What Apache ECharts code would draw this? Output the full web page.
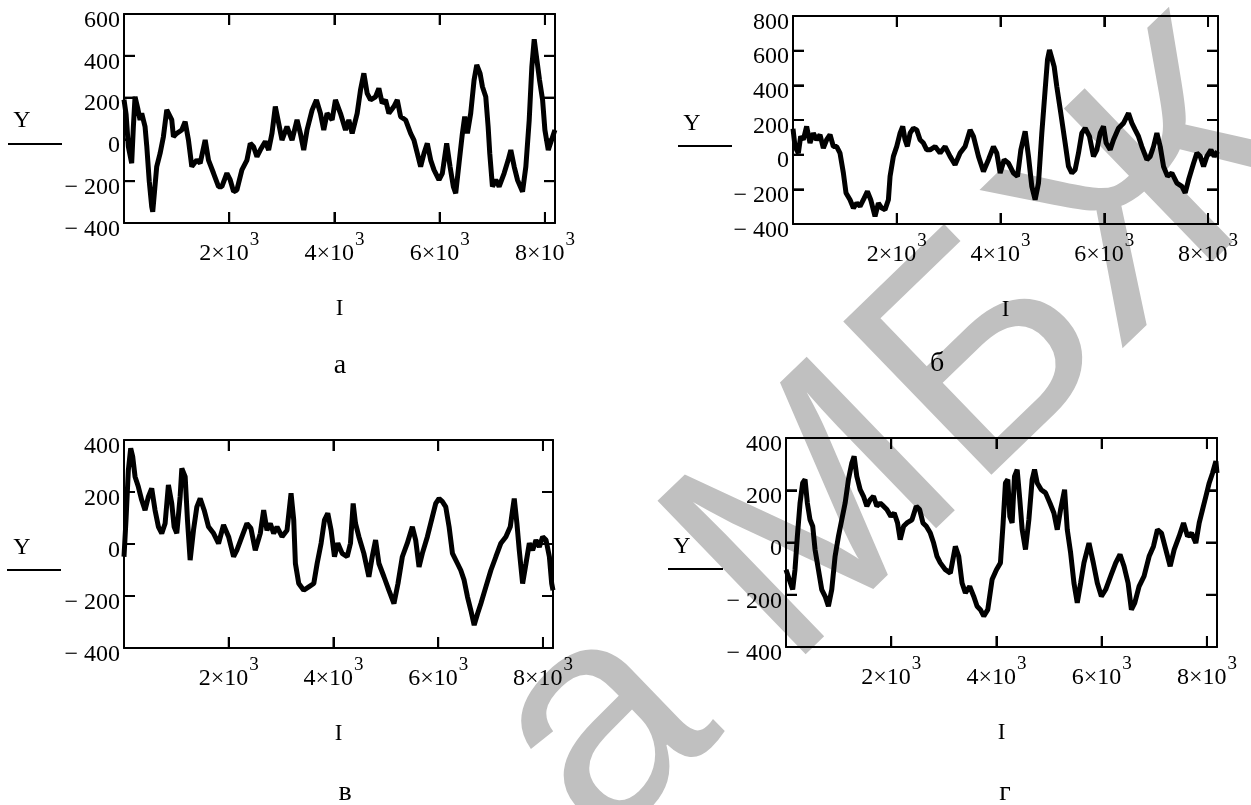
<!DOCTYPE html>
<html><head><meta charset="utf-8">
<script src="https://cdn.jsdelivr.net/npm/echarts@6/dist/echarts.min.js"></script>
<style>html,body{margin:0;padding:0;background:#fff}#c{width:1251px;height:805px}</style>
</head><body><div id="c"></div>
<script>
// ---- data ----
const xTickValues = [2000, 4000, 6000, 8000];
const captions = ['а', 'б', 'в', 'г'];
const xName = 'I';
const yName = 'Y';
const watermarkText = 'а МБЖД';

// panel а
const aI = [0,40,83,146,178,210,260,305,337,400,432,480,527,546,580,622,686,749,813,844,908,940,1003,1098,1162,1225,1289,1384,1448,1543,1606,1702,1797,1860,1956,2019,2083,2146,2241,2337,2400,2463,2527,2590,2686,2749,2813,2876,2940,3003,3098,3194,3289,3352,3416,3479,3575,3657,3733,3797,3860,3956,4019,4114,4210,4273,4337,4432,4495,4559,4622,4686,4781,4844,4908,4971,5035,5130,5194,5257,5352,5448,5511,5575,5638,5702,5765,5829,5892,5987,6051,6133,6197,6260,6305,6368,6432,6476,6527,6590,6654,6705,6768,6813,6876,6921,6952,7003,7067,7130,7225,7302,7352,7416,7479,7575,7638,7702,7752,7797,7848,7898,7956,8000,8064,8127,8190];
const aY = [190,120,-35,-114,60,204,150,93,125,61,-30,-200,-322,-346,-250,-130,-67,13,141,149,93,13,29,45,85,-3,-130,-99,-114,-3,-99,-162,-226,-226,-162,-194,-250,-242,-146,-99,-19,-35,-83,-51,-10,-51,29,157,77,-3,61,-3,93,29,-51,45,140,189,125,45,125,93,189,125,45,93,29,125,236,316,220,189,204,244,173,189,125,157,189,109,93,29,-3,-67,-130,-67,-19,-99,-146,-194,-162,-19,-130,-226,-258,-114,29,109,29,125,284,356,316,252,204,61,-67,-226,-194,-226,-162,-99,-51,-130,-194,-250,-130,93,348,479,380,284,189,45,-51,-3,45];

// panel б
const bI = [0,39,103,148,199,263,328,392,456,521,585,649,714,778,842,906,971,1022,1099,1164,1228,1292,1357,1434,1498,1581,1646,1710,1774,1839,1871,1935,2000,2064,2115,2160,2205,2257,2321,2385,2449,2514,2578,2642,2739,2835,2932,3028,3124,3221,3317,3414,3478,3575,3671,3767,3864,3928,3993,4070,4153,4250,4327,4392,4475,4539,4603,4667,4732,4796,4860,4905,4944,4989,5034,5085,5162,5246,5310,5375,5438,5503,5567,5632,5715,5792,5857,5921,5985,6036,6114,6178,6274,6371,6467,6532,6596,6660,6724,6821,6885,6950,7014,7078,7142,7220,7303,7400,7496,7560,7625,7721,7785,7850,7914,7978,8056,8120,8184];
const bY = [150,47,9,105,86,163,67,124,86,115,38,86,115,47,47,9,-106,-221,-260,-308,-279,-298,-260,-212,-260,-356,-279,-308,-317,-260,-125,-10,48,124,163,86,48,124,153,143,86,67,28,28,47,9,47,-10,-58,9,47,143,105,-10,-97,-29,47,9,-106,-29,-49,-106,-125,28,134,-10,-183,-260,-164,124,374,547,604,556,508,393,239,67,-68,-106,-87,9,124,153,105,-10,28,124,163,67,28,86,153,182,239,182,143,105,47,-29,-10,47,124,47,-68,-125,-106,-164,-183,-221,-145,-49,9,-10,-68,-10,28,-10,19];

// panel в
const cI = [0,38,83,128,166,211,274,338,402,466,529,593,657,721,785,848,912,957,1008,1072,1104,1168,1212,1263,1327,1391,1455,1531,1614,1710,1805,1901,1997,2093,2156,2252,2348,2424,2507,2603,2667,2730,2794,2858,2922,3018,3113,3190,3241,3273,3337,3432,3528,3624,3688,3764,3828,3891,3955,4019,4083,4166,4262,4325,4376,4421,4485,4580,4676,4740,4804,4868,4964,5059,5155,5232,5315,5410,5506,5570,5634,5697,5793,5889,5953,6017,6080,6144,6208,6272,6368,6431,6495,6559,6623,6687,6751,6815,6910,7006,7101,7197,7293,7376,7420,7452,7503,7548,7612,7676,7740,7803,7867,7931,7995,8059,8123,8167,8192];
const cY = [-49,92,284,368,336,259,220,169,130,182,214,130,66,41,79,227,156,66,41,182,291,259,92,-62,53,143,175,130,66,41,2,73,28,-49,-24,28,79,60,-24,41,130,53,79,41,66,28,53,195,92,-75,-152,-178,-165,-152,-75,3,92,118,53,-49,3,-36,-49,3,156,79,28,-36,-126,-49,15,-75,-126,-178,-229,-152,-49,3,66,15,-88,-36,28,105,156,175,163,143,66,-36,-75,-101,-139,-203,-255,-312,-268,-229,-165,-101,-49,3,28,66,130,175,79,-24,-152,-75,3,-24,15,-11,28,15,-49,-152,-178];

// panel г
const dI = [0,63,127,171,216,267,317,362,406,457,508,552,616,679,743,806,870,933,997,1060,1124,1187,1251,1295,1346,1410,1473,1537,1600,1663,1727,1790,1854,1917,1994,2057,2120,2171,2235,2298,2394,2476,2540,2603,2667,2743,2806,2870,2933,3029,3124,3219,3283,3346,3410,3492,3568,3632,3695,3759,3835,3917,4000,4076,4127,4171,4216,4254,4298,4343,4394,4444,4489,4552,4616,4679,4724,4775,4851,4933,5016,5092,5156,5219,5295,5346,5410,5473,5536,5600,5663,5759,5841,5917,5994,6076,6171,6267,6349,6425,6502,6565,6629,6711,6806,6902,6984,7060,7137,7219,7302,7378,7473,7556,7632,7708,7790,7854,7917,7981,8044,8108,8171,8192];
const dY = [-104,-142,-180,-104,24,151,228,241,151,87,62,-27,-104,-180,-206,-244,-180,-53,24,87,151,241,304,330,253,202,177,139,164,177,139,151,139,126,100,113,75,11,62,75,87,139,126,75,62,36,-2,-53,-78,-104,-117,-15,-53,-155,-193,-168,-206,-244,-257,-282,-257,-142,-104,-78,75,228,241,100,75,253,279,164,49,-27,87,241,279,228,202,190,151,113,49,126,202,49,-40,-155,-231,-155,-78,-2,-78,-155,-206,-180,-129,-78,-46,-91,-155,-257,-231,-168,-129,-53,-15,49,36,-27,-91,-27,24,75,24,36,-2,75,126,177,228,266,311,266];

// ---- layout ----
const FONT = '"Liberation Serif", "Times New Roman", serif';
const X_MAX = 8192, Y_STEP = 200, TICK_LEN = 11;
const panels = [
  {I: aI, Y: aY, ymin: -400, ymax: 600, grid: {left: 124, top: 14, width: 431, height: 209},
   yLab: [22, 121], uline: [8, 62, 144], cap: [340, 366]},
  {I: bI, Y: bY, ymin: -400, ymax: 800, grid: {left: 793, top: 16, width: 425, height: 208},
   yLab: [692, 124], uline: [678, 732, 146], cap: [937, 364]},
  {I: cI, Y: cY, ymin: -400, ymax: 400, grid: {left: 124, top: 440, width: 429, height: 208},
   yLab: [22, 548], uline: [7, 61, 570], cap: [345, 793]},
  {I: dI, Y: dY, ymin: -400, ymax: 400, grid: {left: 786, top: 438, width: 431, height: 209},
   yLab: [682, 547], uline: [668, 723, 569], cap: [1005, 793]}
];

const lineCol = '#000';
const mkLine = () => ({show: true, onZero: false, lineStyle: {color: lineCol, width: 2}});
const mkTick = () => ({show: true, inside: true, length: TICK_LEN, lineStyle: {color: lineCol, width: 2}});

const grids = [], xAxes = [], yAxes = [], series = [], graphics = [];

// watermark (light grey, rotated, behind the plots)
graphics.push({
  type: 'text', x: 542, y: 790, rotation: 44 * Math.PI / 180, z: -10,
  style: {text: watermarkText, font: '310px "Liberation Sans", Arial, sans-serif', fill: '#c0c0c0',
          textAlign: 'left', textVerticalAlign: 'middle'}
});

// tick mark renderer: each item = [xValue, yValue, pixelDirX, pixelDirY]
const renderTick = (params, api) => {
  const p = api.coord([api.value(0), api.value(1)]);
  const ux = api.value(2), uy = api.value(3);
  return {
    type: 'line',
    shape: {x1: p[0], y1: p[1], x2: p[0] + ux * TICK_LEN, y2: p[1] + uy * TICK_LEN},
    style: {stroke: lineCol, lineWidth: 2}
  };
};

panels.forEach((p, gi) => {
  grids.push({left: p.grid.left, top: p.grid.top, width: p.grid.width, height: p.grid.height});
  xAxes.push({
    type: 'value', gridIndex: gi, position: 'bottom', min: 0, max: X_MAX, interval: 2000,
    axisLine: mkLine(), axisTick: mkTick(), splitLine: {show: false},
    name: xName, nameLocation: 'middle', nameGap: 74,
    nameTextStyle: {fontFamily: FONT, fontSize: 23, color: '#000'},
    axisLabel: {
      show: true, margin: 19,
      formatter: v => xTickValues.indexOf(v) >= 0 ? '{b|' + (v / 1000) + '×10}{s|3}' : '',
      rich: {
        b: {fontFamily: FONT, fontSize: 24, color: '#000', lineHeight: 24, verticalAlign: 'bottom'},
        s: {fontFamily: FONT, fontSize: 19, color: '#000', lineHeight: 19, verticalAlign: 'bottom', padding: [0, 0, 16, 1]}
      }
    }
  });
  xAxes.push({
    type: 'value', gridIndex: gi, position: 'top', min: 0, max: X_MAX, interval: 2000,
    axisLine: mkLine(), axisTick: mkTick(), splitLine: {show: false}, axisLabel: {show: false}
  });
  yAxes.push({
    type: 'value', gridIndex: gi, position: 'left', min: p.ymin, max: p.ymax, interval: Y_STEP,
    axisLine: mkLine(), axisTick: mkTick(), splitLine: {show: false},
    axisLabel: {
      show: true, margin: 4, verticalAlign: 'top', lineHeight: 13,
      fontFamily: FONT, fontSize: 24, color: '#000',
      formatter: v => v < 0 ? '\u2212 ' + Math.abs(v) : String(v)
    }
  });
  yAxes.push({
    type: 'value', gridIndex: gi, position: 'right', min: p.ymin, max: p.ymax, interval: Y_STEP,
    axisLine: mkLine(), axisTick: mkTick(), splitLine: {show: false}, axisLabel: {show: false}
  });
  series.push({
    type: 'line', xAxisIndex: gi * 2, yAxisIndex: gi * 2,
    data: p.I.map((x, k) => [x, p.Y[k]]),
    showSymbol: false, animation: false,
    lineStyle: {color: lineCol, width: 5}
  });

  // inward tick marks on all four sides, placed through the axes' scales
  const tickItems = [];
  xTickValues.forEach(v => {
    tickItems.push([v, p.ymin, 0, -1]);   // bottom, pointing up
    tickItems.push([v, p.ymax, 0, 1]);    // top, pointing down
  });
  for (let v = p.ymin + Y_STEP; v < p.ymax; v += Y_STEP) {
    tickItems.push([0, v, 1, 0]);         // left, pointing right
    tickItems.push([X_MAX, v, -1, 0]);    // right, pointing left
  }
  series.push({
    type: 'custom', xAxisIndex: gi * 2, yAxisIndex: gi * 2,
    data: tickItems, encode: {x: 0, y: 1}, clip: false, silent: true, z: 10,
    animation: false, renderItem: renderTick
  });

  graphics.push({
    type: 'text', x: p.yLab[0], y: p.yLab[1],
    style: {text: yName, font: '24px ' + FONT, fill: '#000', textAlign: 'center', textVerticalAlign: 'middle'}
  });
  graphics.push({
    type: 'line',
    shape: {x1: p.uline[0], y1: p.uline[2], x2: p.uline[1], y2: p.uline[2]},
    style: {stroke: '#000', lineWidth: 2}
  });
  graphics.push({
    type: 'text', x: p.cap[0], y: p.cap[1],
    style: {text: captions[gi], font: '28px ' + FONT, fill: '#000', textAlign: 'center', textVerticalAlign: 'middle'}
  });
});

const chart = echarts.init(document.getElementById('c'), null, {renderer: 'canvas'});
chart.setOption({
  animation: false,
  backgroundColor: '#fff',
  grid: grids, xAxis: xAxes, yAxis: yAxes, series: series,
  graphic: graphics
});
</script></body></html>
